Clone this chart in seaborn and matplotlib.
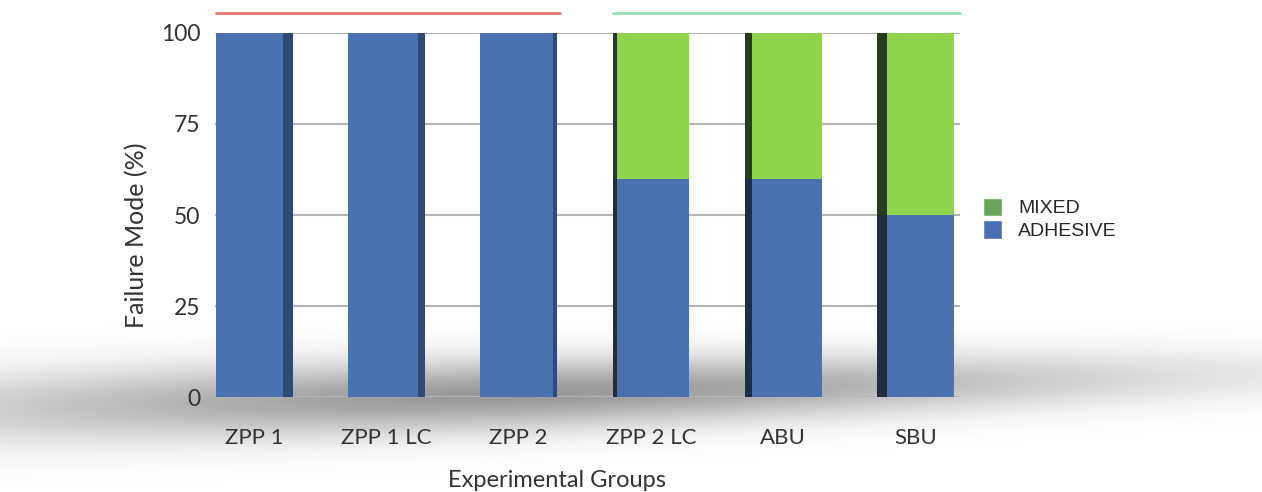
import numpy as np
import pandas as pd
import matplotlib
matplotlib.use("Agg")
import matplotlib.pyplot as plt
import seaborn as sns
from matplotlib.patches import Patch, Rectangle

groups = ["ZPP 1", "ZPP 1 LC", "ZPP 2", "ZPP 2 LC", "ABU", "SBU"]
adhesive = [100, 100, 100, 60, 60, 50]
mixed = [0, 0, 0, 40, 40, 50]
series_names = ["MIXED", "ADHESIVE"]
yticks = [0, 25, 50, 75, 100]

df = pd.DataFrame({"group": groups, "adhesive": adhesive, "mixed": mixed})
df["total"] = df["adhesive"] + df["mixed"]

sns.set_style("white")
plt.rcParams["font.family"] = ["Lato", "DejaVu Sans"]

fig = plt.figure(figsize=(12.62, 4.92), dpi=100)

# soft floor shadow behind the bars
bg = fig.add_axes([0, 0, 1, 1], zorder=-1)
W, H = 1262, 492
yy, xx = np.mgrid[0:H, 0:W]
yc = 408 - 34 * xx / W
sy = 48 - 14 * xx / W
d = ((xx - 520) / 760.0) ** 2 + ((yy - yc) / sy) ** 2
alpha = 0.40 * np.exp(-d * 1.5)
img = np.zeros((H, W, 4))
img[..., 3] = alpha
bg.imshow(img, extent=(0, 1, 0, 1), aspect="auto", origin="upper")
bg.set_xlim(0, 1)
bg.set_ylim(0, 1)
bg.axis("off")

ax = fig.add_axes([0.170, 0.193, 0.591, 0.740], zorder=1)
ax.set_facecolor("none")

green = "#8fd44b"
blue = "#4a72b0"
sns.barplot(data=df, x="group", y="total", color=green, saturation=1, width=0.58,
            linewidth=0, ax=ax, zorder=3)
sns.barplot(data=df, x="group", y="adhesive", color=blue, saturation=1, width=0.58,
            linewidth=0, ax=ax, zorder=4)

# dark side faces for a 3D look (taken from the drawn bars)
n = len(groups)
for i, p in enumerate(ax.patches):
    if p.get_height() <= 0:
        continue
    k = i % n
    w = p.get_width() * (0.04 + 0.035 * abs(k - 2.5))
    x0 = p.get_x() + p.get_width() - w if k < 3 else p.get_x()
    is_blue = p.get_facecolor()[2] > 0.5
    if k < 3:
        shade = "#2f4a75"
    else:
        shade = "#1f2d44" if is_blue else "#263d1d"
    ax.add_patch(Rectangle((x0, p.get_y()), w, p.get_height(), facecolor=shade,
                           edgecolor="none", zorder=5))

ax.set_xlim(-0.30, 5.34)
ax.set_ylim(0, 100)
ax.set_yticks(yticks)
ax.yaxis.grid(True, color="#b5b5b5", linewidth=1.5, zorder=0)
ax.set_axisbelow(True)
for s in ax.spines.values():
    s.set_visible(False)
ax.tick_params(axis="y", length=0, pad=10, labelsize=16.5, labelcolor="#333333")
ax.tick_params(axis="x", length=0, pad=22, labelsize=16, labelcolor="#333333")
ax.set_xlabel("Experimental Groups", fontsize=17, color="#333333")
ax.set_ylabel("Failure Mode (%)", fontsize=18, color="#333333")
ax.xaxis.set_label_coords(0.459, -0.228)
ax.yaxis.set_label_coords(-0.105, 0.445)
ax.xaxis.label.set_va("center")
ax.yaxis.label.set_va("center")

# group brackets at the top
ax.plot([-0.29, 2.31], [105.5, 105.5], color="#e8776e", linewidth=2, clip_on=False)
ax.plot([2.71, 5.34], [105.5, 105.5], color="#93e2b4", linewidth=2, clip_on=False)

handles = [Patch(facecolor="#6aa55a", label=series_names[0]),
           Patch(facecolor="#4a6fb5", label=series_names[1])]
fig.legend(handles=handles, loc="center left", bbox_to_anchor=(0.765, 0.555), frameon=False,
           prop={"family": "Liberation Sans", "size": 14}, handlelength=1.0, handleheight=1.1,
           handletextpad=0.8, labelspacing=0.15)

fig.savefig("out.png", dpi=100)
